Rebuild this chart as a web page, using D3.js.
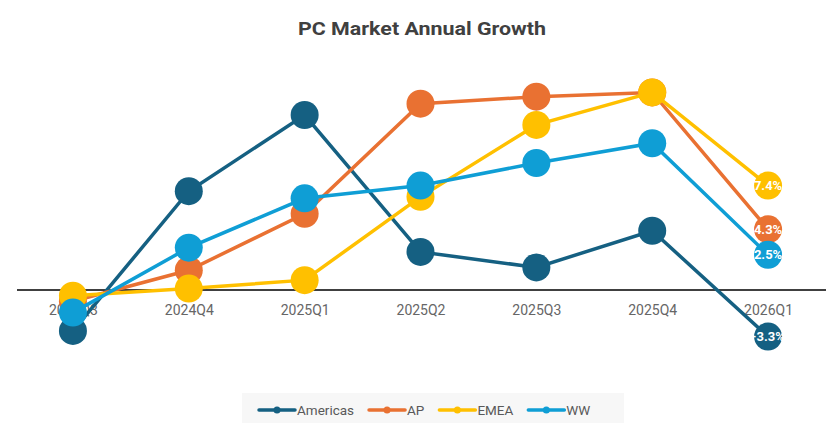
<!DOCTYPE html>
<html>
<head>
<meta charset="utf-8">
<script src="https://cdn.jsdelivr.net/npm/d3@7"></script>
<style>
  body { margin: 0; background: #fff; }
  svg { display: block; font-family: Roboto, "Open Sans", sans-serif; }
</style>
</head>
<body>
<svg class="grafico" width="831" height="423"></svg>
<script>
// dados (crescimento anual, %)
const quarters = ["2024Q3", "2024Q4", "2025Q1", "2025Q2", "2025Q3", "2025Q4", "2026Q1"];
const americas = [-2.9, 7.0, 12.4, 2.7, 1.6, 4.2, -3.3];
const ap       = [-0.8, 1.4, 5.4, 13.2, 13.7, 14.0, 4.3];
const emea     = [-0.4, 0.1, 0.7, 6.6, 11.7, 14.0, 7.4];
const ww       = [-1.6, 3.0, 6.5, 7.4, 9.0, 10.4, 2.5];
const seriesNames = ["Americas", "AP", "EMEA", "WW"];
const cores = ["#156082", "#E97132", "#FFC000", "#0F9ED5"];

const series = [americas, ap, emea, ww].map((vals, i) => ({
    nome: seriesNames[i],
    cor: cores[i],
    pontos: vals.map((v, j) => ({ q: quarters[j], v: v }))
}));

const $svg = d3.select(".grafico");

const x = d3.scalePoint()
    .domain(quarters)
    .range([15, 826])
    .padding(0.5);

const y = d3.scaleLinear()
    .domain([-6, 16])
    .range([374.7, 64.2]);

// titulo
$svg.append("text")
    .attr("x", 422)
    .attr("y", 35)
    .attr("text-anchor", "middle")
    .attr("font-size", 19)
    .attr("font-weight", "bold")
    .attr("fill", "#404040")
    .attr("textLength", 248)
    .attr("lengthAdjust", "spacingAndGlyphs")
    .text("PC Market Annual Growth");

// eixo x na linha do zero
const eixo = $svg.append("g")
    .attr("transform", `translate(0,${y(0)})`)
    .call(d3.axisBottom(x).tickSize(0).tickPadding(15));
eixo.select(".domain")
    .attr("d", `M17,0H826`)
    .attr("stroke", "#404040")
    .attr("stroke-width", 2);
eixo.selectAll("text")
    .attr("font-size", 14)
    .attr("fill", "#666")
    .attr("font-family", "Roboto, sans-serif");

const linha = d3.line()
    .x(d => x(d.q))
    .y(d => y(d.v));

const g = $svg.selectAll("g.serie")
    .data(series)
    .enter()
    .append("g")
    .attr("class", "serie");

g.append("path")
    .attr("d", d => linha(d.pontos))
    .attr("fill", "none")
    .attr("stroke", d => d.cor)
    .attr("stroke-width", 3.5);

g.selectAll("circle")
    .data(d => d.pontos.map(p => ({ ...p, cor: d.cor })))
    .enter()
    .append("circle")
    .attr("cx", d => x(d.q))
    .attr("cy", d => y(d.v))
    .attr("r", 14)
    .attr("fill", d => d.cor);

// rotulo so no ultimo ponto
g.append("text")
    .datum(d => d.pontos[d.pontos.length - 1])
    .attr("x", d => x(d.q))
    .attr("y", d => y(d.v))
    .attr("dy", "0.36em")
    .attr("text-anchor", "middle")
    .attr("font-size", 13)
    .attr("font-weight", "bold")
    .attr("fill", "#fff")
    .text(d => d.v.toFixed(1) + "%");

// legenda
const leg = $svg.append("g");
leg.append("rect")
    .attr("x", 242).attr("y", 393)
    .attr("width", 382).attr("height", 30)
    .attr("fill", "#f7f7f7");

const item = leg.selectAll("g.item")
    .data(series)
    .enter()
    .append("g")
    .attr("class", "item");

item.append("line")
    .attr("x1", 0).attr("x2", 36)
    .attr("stroke", d => d.cor)
    .attr("stroke-width", 3.5)
    .attr("stroke-linecap", "round");
item.append("circle")
    .attr("cx", 18)
    .attr("r", 3.5)
    .attr("fill", d => d.cor);
item.append("text")
    .attr("x", 38)
    .attr("dy", "0.35em")
    .attr("font-size", 13.5)
    .attr("fill", "#595959")
    .text(d => d.nome);

// posiciona os itens um depois do outro, conforme a largura do texto
let legX = 259;
item.each(function() {
    const el = d3.select(this);
    el.attr("transform", `translate(${legX},410)`);
    legX += 38 + el.select("text").node().getComputedTextLength() + 15;
});
</script>
</body>
</html>
